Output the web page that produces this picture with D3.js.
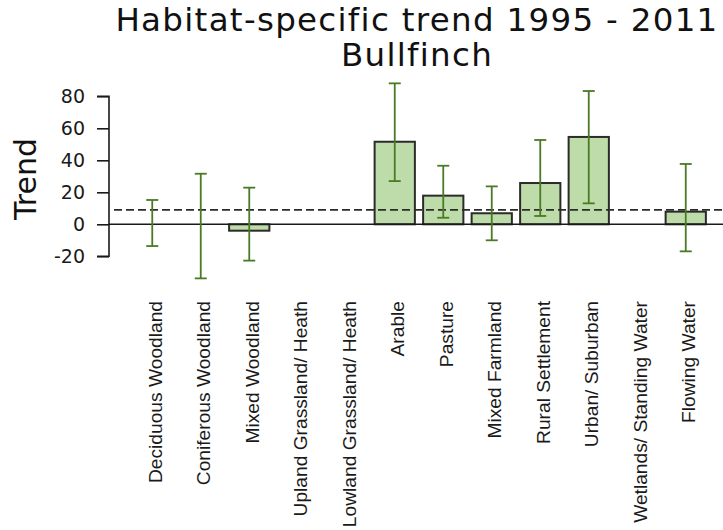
<!DOCTYPE html>
<html>
<head>
<meta charset="utf-8">
<script src="https://cdn.jsdelivr.net/npm/d3@7"></script>
<style>
  html, body { margin: 0; padding: 0; background: #fff; }
  svg { display: block; }
</style>
</head>
<body>
<svg id="chart" width="723" height="530"></svg>
<script>
const categories = ["Deciduous Woodland","Coniferous Woodland","Mixed Woodland","Upland Grassland/ Heath","Lowland Grassland/ Heath","Arable","Pasture","Mixed Farmland","Rural Settlement","Urban/ Suburban","Wetlands/ Standing Water","Flowing Water"];
const trend = [null, null, -4, null, null, 51.6, 17.9, 6.9, 25.8, 54.6, null, 7.9];
const lower = [-13.6, -33.8, -22.7, null, null, 27, 4.1, -10, 5.2, 13.1, null, -16.9];
const upper = [15.2, 31.6, 22.9, null, null, 88.1, 36.6, 23.7, 52.7, 83.3, null, 37.7];
const overallTrend = 9;
const yTicks = [-20, 0, 20, 40, 60, 80];
const titleLines = ["Habitat-specific trend 1995 - 2011", "Bullfinch"];
const yLabel = "Trend";

const svg = d3.select("#chart");
const x = d3.scaleBand().domain(categories).range([128, 710]).paddingInner(0.17).paddingOuter(0.085);
const y = d3.scaleLinear().domain([-20, 80]).range([256.3, 96.3]);

const rows = categories.map((c, i) => ({c, v: trend[i], lo: lower[i], hi: upper[i]}));

// bars
svg.append("g").selectAll("rect").data(rows.filter(d => d.v !== null)).join("rect")
  .attr("x", d => x(d.c))
  .attr("width", x.bandwidth())
  .attr("y", d => y(Math.max(0, d.v)))
  .attr("height", d => Math.abs(y(d.v) - y(0)))
  .attr("fill", "#bddca9")
  .attr("stroke", "#2b2b2b")
  .attr("stroke-width", 2);

// zero line
svg.append("line").attr("x1", 109).attr("x2", 723).attr("y1", y(0)).attr("y2", y(0))
  .attr("stroke", "#1a1a1a").attr("stroke-width", 1.6);

// overall dashed line
svg.append("line").attr("x1", 114).attr("x2", 723).attr("y1", y(overallTrend)).attr("y2", y(overallTrend))
  .attr("stroke", "#2b2b2b").attr("stroke-width", 1.6).attr("stroke-dasharray", "8,4");

// error bars
const eb = svg.append("g").attr("stroke", "#4b7a25").attr("stroke-width", 1.8);
const ebRows = rows.filter(d => d.lo !== null);
eb.selectAll("line.v").data(ebRows).join("line").attr("class", "v")
  .attr("x1", d => x(d.c) + x.bandwidth()/2).attr("x2", d => x(d.c) + x.bandwidth()/2)
  .attr("y1", d => y(d.lo)).attr("y2", d => y(d.hi));
eb.selectAll("line.t").data(ebRows).join("line").attr("class", "t")
  .attr("x1", d => x(d.c) + x.bandwidth()/2 - 6).attr("x2", d => x(d.c) + x.bandwidth()/2 + 6)
  .attr("y1", d => y(d.hi)).attr("y2", d => y(d.hi));
eb.selectAll("line.b").data(ebRows).join("line").attr("class", "b")
  .attr("x1", d => x(d.c) + x.bandwidth()/2 - 6).attr("x2", d => x(d.c) + x.bandwidth()/2 + 6)
  .attr("y1", d => y(d.lo)).attr("y2", d => y(d.lo));

// y axis
const yAxis = d3.axisLeft(y).tickValues(yTicks).tickSize(12).tickPadding(12).tickFormat(d => String(d));
const ga = svg.append("g").attr("transform", "translate(109,0)").call(yAxis);
ga.select(".domain").attr("d", `M-12,${y(-20)}H0V${y(80)}H-12`).attr("stroke", "#1a1a1a").attr("stroke-width", 1.6);
ga.selectAll(".tick line").attr("stroke", "#1a1a1a").attr("stroke-width", 1.6);
ga.selectAll(".tick text").attr("font-family", "DejaVu Sans").attr("font-size", 19).attr("fill", "#1a1a1a");

// x labels
svg.append("g").selectAll("text").data(categories).join("text")
  .attr("transform", d => `translate(${x(d) + x.bandwidth()/2 + 9.5},301) rotate(-90)`)
  .attr("text-anchor", "end")
  .attr("font-family", "Liberation Sans, Arial, sans-serif")
  .attr("font-size", 19.2)
  .attr("fill", "#1a1a1a")
  .text(d => d);

// y label
svg.append("text")
  .attr("transform", "translate(36,179) rotate(-90)")
  .attr("text-anchor", "middle")
  .attr("font-family", "DejaVu Sans")
  .attr("font-size", 30)
  .attr("fill", "#111")
  .text(yLabel);

// title
svg.append("g").selectAll("text").data(titleLines).join("text")
  .attr("x", 417)
  .attr("y", (d, i) => i === 0 ? 31 : 66)
  .attr("text-anchor", "middle")
  .attr("font-family", "DejaVu Sans")
  .attr("font-size", 32.5)
  .attr("letter-spacing", 1.3)
  .attr("fill", "#111")
  .text(d => d);
</script>
</body>
</html>
